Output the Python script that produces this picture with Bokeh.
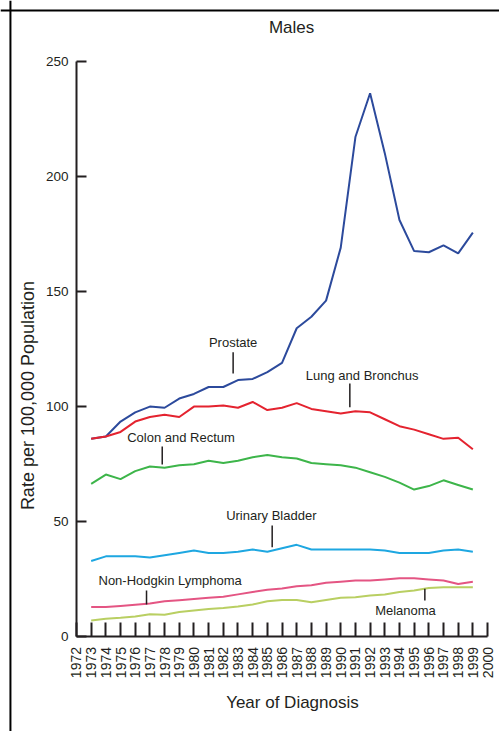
import math
from bokeh.plotting import figure
from bokeh.models import Range1d, FixedTicker, Label, Span, LinearAxis, ColumnDataSource
from bokeh.core.properties import value
from bokeh.embed import file_html
from bokeh.resources import INLINE

# ---------------- data ----------------
years = list(range(1973, 2000))
prostate = [86, 87, 93.5, 97.5, 100, 99.5, 103.5, 105.5, 108.5, 108.5, 111.5, 112, 115, 119,
            134, 139, 146, 169, 217, 236, 210, 181, 167.5, 167, 170, 166.5, 175.5]
lung = [86, 87, 89, 93.5, 95.5, 96.5, 95.5, 100, 100, 100.5, 99.5, 102, 98.5, 99.5,
        101.5, 99, 98, 97, 98, 97.5, 94.5, 91.5, 90, 88, 86, 86.5, 81.5]
colon = [66.5, 70.5, 68.5, 72, 74, 73.5, 74.5, 75, 76.5, 75.5, 76.5, 78, 79, 78,
         77.5, 75.5, 75, 74.5, 73.5, 71.5, 69.5, 67, 64, 65.5, 68, 66, 64]
bladder = [33, 35, 35, 35, 34.5, 35.5, 36.5, 37.5, 36.5, 36.5, 37, 38, 37, 38.5,
           40, 38, 38, 38, 38, 38, 37.5, 36.5, 36.5, 36.5, 37.5, 38, 37]
nhl = [13, 13, 13.5, 14, 14.5, 15.5, 16, 16.5, 17, 17.5, 18.5, 19.5, 20.5, 21,
       22, 22.5, 23.5, 24, 24.5, 24.5, 25, 25.5, 25.5, 25, 24.5, 23, 24]
melanoma = [7.2, 7.9, 8.3, 8.9, 9.9, 9.7, 10.8, 11.5, 12.2, 12.6, 13.2, 14.1, 15.5, 16.1,
            16.1, 15.1, 16.1, 17, 17.3, 18, 18.4, 19.5, 20.2, 21.3, 21.6, 21.6, 21.6]

series_names = ["Prostate", "Lung and Bronchus", "Colon and Rectum", "Urinary Bladder",
                "Non-Hodgkin Lymphoma", "Melanoma"]
series_values = [prostate, lung, colon, bladder, nhl, melanoma]
series_colors = ["#2c4a9c", "#e4232f", "#3db54a", "#1ea7e1", "#e45583", "#b9cf62"]

# label annotations (data coordinates)
label_x = [1982.67, 1991.46, 1979.12, 1985.27, 1978.38, 1994.41]
label_y = [128, 113.5, 86.5, 52.7, 24.5, 11.5]
leader_x = [1982.67, 1990.62, 1977.84, 1985.33, 1976.77, 1995.73]
leader_y0 = [123.6, 110.0, 82.7, 48.4, 20.2, 20.9]
leader_y1 = [114.4, 99.7, 74.9, 39.0, 14.1, 15.8]

y_ticks = [0, 50, 100, 150, 200, 250]
x_ticks = list(range(1972, 2001))

FONT = "Liberation Sans"
TXT = "#231f20"

p = figure(width=499, height=731, output_backend="svg", toolbar_location=None,
           x_range=Range1d(1966.823, 2000.815), y_range=Range1d(-41.02, 276.26),
           x_axis_location=None, y_axis_location=None,
           min_border=0)
p.xgrid.visible = False
p.ygrid.visible = False
p.outline_line_color = None
p.background_fill_color = "white"
p.border_fill_color = "white"

yaxis = LinearAxis(ticker=FixedTicker(ticks=y_ticks), fixed_location=1972, bounds=(0, 250))
yaxis.major_tick_in = 10
yaxis.major_tick_out = 0
yaxis.minor_tick_line_color = None
yaxis.axis_line_width = 2
yaxis.major_tick_line_width = 2
yaxis.axis_line_color = TXT
yaxis.major_tick_line_color = TXT
yaxis.major_label_text_font = FONT
yaxis.major_label_text_font_size = "13.5px"
yaxis.major_label_text_color = TXT
yaxis.major_label_standoff = 8
p.add_layout(yaxis, "left")

xaxis = LinearAxis(ticker=FixedTicker(ticks=x_ticks), fixed_location=0, bounds=(1972, 2000))
xaxis.major_tick_in = 14
xaxis.major_tick_out = 0
xaxis.minor_tick_line_color = None
xaxis.axis_line_width = 2
xaxis.major_tick_line_width = 2
xaxis.axis_line_color = TXT
xaxis.major_tick_line_color = TXT
xaxis.major_label_orientation = math.pi / 2
xaxis.major_label_text_font = FONT
xaxis.major_label_text_font_size = "14px"
xaxis.major_label_text_color = TXT
xaxis.major_label_standoff = 10
p.add_layout(xaxis, "below")

for name, vals, col in zip(series_names, series_values, series_colors):
    p.line(years, vals, line_color=col, line_width=2)

src = ColumnDataSource(dict(x=label_x, y=label_y, t=series_names))
p.text(x="x", y="y", text="t", source=src, text_font=value(FONT), text_font_size="13px",
       text_align="center", text_baseline="middle", text_color=TXT)
p.segment(x0=leader_x, y0=leader_y0, x1=leader_x, y1=leader_y1, line_color=TXT, line_width=1.5)

p.add_layout(Label(x=1986.65, y=264.5, text="Males", text_font=FONT, text_font_size="17px",
                   text_align="center", text_baseline="middle", text_color=TXT))
p.add_layout(Label(x=1986.71, y=-28.4, text="Year of Diagnosis", text_font=FONT,
                   text_font_size="17px", text_align="center", text_baseline="middle", text_color=TXT))
p.add_layout(Label(x=1968.73, y=104.8, text="Rate per 100,000 Population", text_font=FONT,
                   text_font_size="18px", angle=math.pi / 2, text_align="center",
                   text_baseline="middle", text_color=TXT))
# outer frame (top and left edges; right and bottom lie outside the picture)
p.add_layout(Span(location=271.9, dimension="width", line_color="black", line_width=2))
p.add_layout(Span(location=1967.5, dimension="height", line_color="black", line_width=2))

open("out.html", "w").write(file_html(p, INLINE))
